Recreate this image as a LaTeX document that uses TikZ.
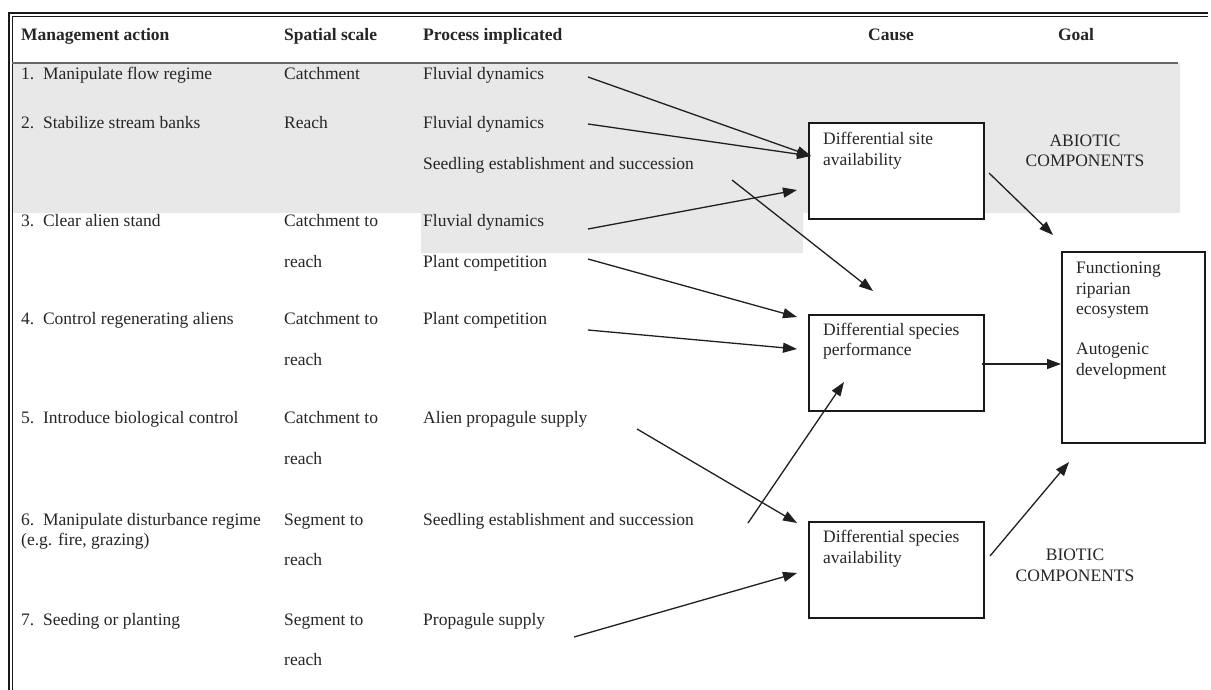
\documentclass[tikz,border=0pt]{standalone}
\usepackage{fontspec}
\setmainfont{Liberation Serif}
\usetikzlibrary{arrows.meta}
\begin{document}
\begin{tikzpicture}[x=1pt,y=-1pt,
  txt/.style={inner sep=0pt, anchor=mid west, font=\fontsize{17.5}{21}\selectfont, text=black!85},
  hdr/.style={txt, font=\fontsize{17.5}{21}\selectfont\bfseries},
  ctxt/.style={txt, anchor=mid},
  box/.style={draw=black!90, line width=1.5pt, inner sep=0pt},
  arr/.style={draw=black!88, line width=1.3pt, -{Triangle[length=14pt,width=10pt]}},
]
\useasboundingbox (0,0) rectangle (1211,690);
\fill[white] (0,0) rectangle (1211,690);
% shaded abiotic band
\fill[black!9] (12,63) -- (1180,63) -- (1180,213) -- (803,213) -- (803,253) -- (421,253) -- (421,213) -- (12,213) -- cycle;
% frame
\draw[black!90, line width=2.2pt] (9,13) -- (1208,13);
\draw[black!90, line width=0.9pt] (12,16.5) -- (1208,16.5);
\draw[black!90, line width=2.2pt] (9,12) -- (9,690);
\draw[black!90, line width=0.9pt] (12,16.5) -- (12,690);
\draw[black!60, line width=1.3pt] (12,63) -- (1178,63);
% headers
\node[hdr] (h1) at (21,38) {Management action};
\node[hdr] (h2) at (284,38) {Spatial scale};
\node[hdr] (h3) at (423,38) {Process implicated};
\node[hdr, anchor=mid] (h4) at (891,38) {Cause};
\node[hdr, anchor=mid] (h5) at (1076,38) {Goal};
% column 1
\node[txt] (m1) at (21,77) {1.~~Manipulate flow regime};
\node[txt] (m2) at (21,126) {2.~~Stabilize stream banks};
\node[txt] (m3) at (21,224) {3.~~Clear alien stand};
\node[txt] (m4) at (21,322) {4.~~Control regenerating aliens};
\node[txt] (m5) at (21,421) {5.~~Introduce biological control};
\node[txt] (m6) at (21,523) {6.~~Manipulate disturbance regime};
\node[txt] (m6b) at (21,543) {(e.g. fire, grazing)};
\node[txt] (m7) at (21,623) {7.~~Seeding or planting};
% column 2
\node[txt] (s1) at (284,77) {Catchment};
\node[txt] (s2) at (284,126) {Reach};
\node[txt] (s3) at (284,224) {Catchment to};
\node[txt] (s3b) at (284,265) {reach};
\node[txt] (s4) at (284,322) {Catchment to};
\node[txt] (s4b) at (284,363) {reach};
\node[txt] (s5) at (284,421) {Catchment to};
\node[txt] (s5b) at (284,462) {reach};
\node[txt] (s6) at (284,523) {Segment to};
\node[txt] (s6b) at (284,563) {reach};
\node[txt] (s7) at (284,623) {Segment to};
\node[txt] (s7b) at (284,663) {reach};
% column 3
\node[txt] (p1) at (423,77) {Fluvial dynamics};
\node[txt] (p2) at (423,126) {Fluvial dynamics};
\node[txt] (p2b) at (423,167) {Seedling establishment and succession};
\node[txt] (p3) at (423,224) {Fluvial dynamics};
\node[txt] (p3b) at (423,265) {Plant competition};
\node[txt] (p4) at (423,322) {Plant competition};
\node[txt] (p5) at (423,421) {Alien propagule supply};
\node[txt] (p6) at (423,523) {Seedling establishment and succession};
\node[txt] (p7) at (423,623) {Propagule supply};
% boxes
\draw[box, fill=white] (809,123) rectangle (984,219);
\draw[box] (809,315) rectangle (984,411);
\draw[box] (809,522) rectangle (984,618);
\draw[box] (1062,252) rectangle (1205,443);
\node[txt] (site1) at (823,142) {Differential site};
\node[txt] (site2) at (823,163) {availability};
\node[txt] (perf1) at (823,333) {Differential species};
\node[txt] (perf2) at (823,353) {performance};
\node[txt] (avail1) at (823,540) {Differential species};
\node[txt] (avail2) at (823,561) {availability};
\node[txt] (f1) at (1076,271) {Functioning};
\node[txt] (f2) at (1076,292) {riparian};
\node[txt] (f3) at (1076,312) {ecosystem};
\node[txt] (f4) at (1076,352) {Autogenic};
\node[txt] (f5) at (1076,373) {development};
\node[ctxt] (ab1) at (1085,144) {ABIOTIC};
\node[ctxt] (ab2) at (1085,164) {COMPONENTS};
\node[ctxt] (bi1) at (1075,558) {BIOTIC};
\node[ctxt] (bi2) at (1075,579) {COMPONENTS};
% arrow end points
\coordinate (a1s) at (588,77);
\coordinate (a2s) at (588,124);
\coordinate (siteIn) at (811,156);
\coordinate (a3s) at (588,229);
\coordinate (a3e) at (797,190);
\coordinate (a4s) at (732,180);
\coordinate (a4e) at (873,291);
\coordinate (a5s) at (588,259);
\coordinate (a5e) at (797,317);
\coordinate (a6s) at (588,330);
\coordinate (a6e) at (797,349);
\coordinate (a7s) at (637,429);
\coordinate (a7e) at (797,523);
\coordinate (a8s) at (748,523);
\coordinate (a8e) at (844,382);
\coordinate (a9s) at (574,637);
\coordinate (a9e) at (797,573);
\coordinate (a10s) at (989,173);
\coordinate (a10e) at (1053,235);
\coordinate (a11s) at (982,364);
\coordinate (a11e) at (1061,364);
\coordinate (a12s) at (990,556);
\coordinate (a12e) at (1069,462);
\draw[arr] (a1s) -- (siteIn);
\draw[arr] (a2s) -- (siteIn);
\draw[arr] (a3s) -- (a3e);
\draw[arr] (a4s) -- (a4e);
\draw[arr] (a5s) -- (a5e);
\draw[arr] (a6s) -- (a6e);
\draw[arr] (a7s) -- (a7e);
\draw[arr] (a8s) -- (a8e);
\draw[arr] (a9s) -- (a9e);
\draw[arr] (a10s) -- (a10e);
\draw[arr] (a11s) -- (a11e);
\draw[arr] (a12s) -- (a12e);
\end{tikzpicture}
\end{document}
